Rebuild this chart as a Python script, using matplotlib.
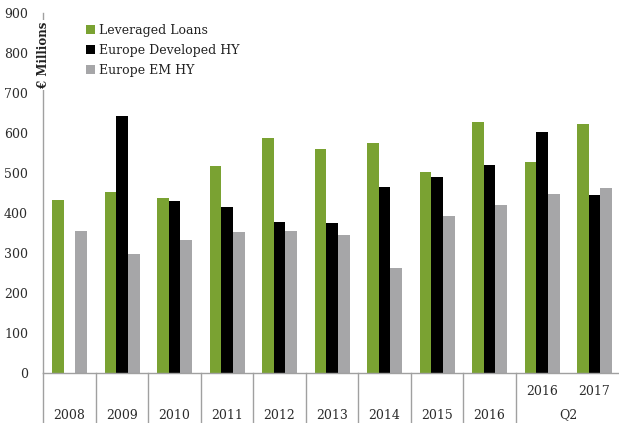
import numpy as np
import matplotlib.pyplot as plt
from matplotlib.patches import Patch

plt.rcParams['font.family'] = ['DejaVu Serif']

categories = ['2008', '2009', '2010', '2011', '2012', '2013', '2014', '2015', '2016',
              '2016', '2017']
quarter_label = 'Q2'
leveraged_loans = [432, 452, 437, 517, 587, 560, 576, 502, 627, 528, 622]
europe_dev_hy = [0, 643, 430, 415, 378, 375, 464, 490, 520, 602, 444]
europe_em_hy = [355, 298, 333, 352, 355, 345, 262, 392, 420, 448, 463]

series = [
    ('Leveraged Loans', leveraged_loans, '#7aa232'),
    ('Europe Developed HY', europe_dev_hy, '#000000'),
    ('Europe EM HY', europe_em_hy, '#a6a6a8'),
]

W, H = 619, 423
fig = plt.figure(figsize=(W / 100, H / 100), dpi=100)
ax = fig.add_axes([43.3 / W, (H - 373) / H, (620.8 - 43.3) / W, (373 - 13) / H])

x = np.arange(len(categories))
bw = 0.222
for i, (name, vals, col) in enumerate(series):
    ax.bar(x + (i - 1) * bw, vals, bw, color=col, label=name, zorder=2)

ax.set_xlim(-0.5, len(categories) - 0.5)
ax.set_ylim(0, 900)
ax.set_yticks(range(0, 1000, 100))
ax.tick_params(axis='y', length=0, pad=11, labelsize=9, labelcolor='#2b2b2b')
ax.set_xticks([])
for s in ['top', 'right']:
    ax.spines[s].set_visible(False)
for s in ['left', 'bottom']:
    ax.spines[s].set_color('#a0a0a0')
    ax.spines[s].set_linewidth(1)

# category separators below the axis (none inside the Q2 group)
sep_bottom = -(H - 373) / (373 - 13)
trans = ax.get_xaxis_transform()
for xs in np.arange(-0.5, 8.6, 1.0):
    ax.plot([xs, xs], [0, sep_bottom], transform=trans, color='#a0a0a0',
            lw=1, clip_on=False)

label_color = '#2b2b2b'
for i, c in enumerate(categories[:9]):
    ax.text(i, -0.117, c, transform=trans, ha='center', va='center',
            fontsize=9, color=label_color)
for i in (9, 10):
    ax.text(i, -0.05, categories[i], transform=trans, ha='center', va='center',
            fontsize=9, color=label_color)
ax.text(9.5, -0.117, quarter_label, transform=trans, ha='center', va='center',
        fontsize=9, color=label_color)

# y label sitting on the axis line
ax.text(0, 795, '€ Millions', transform=ax.get_yaxis_transform(), rotation=90,
        ha='center', va='center', fontsize=8.5, fontweight='bold', color='#222222',
        bbox=dict(facecolor='white', edgecolor='none', pad=1.5), zorder=5)

handles = [Patch(facecolor=col, label=name) for name, _, col in series]
ax.legend(handles=handles, loc='upper left', bbox_to_anchor=(0.055, 1.0),
          frameon=False, fontsize=9, handlelength=0.7, handleheight=0.7,
          handletextpad=0.3, labelspacing=0.55, labelcolor='#222222')

fig.savefig('out.png', dpi=100)
